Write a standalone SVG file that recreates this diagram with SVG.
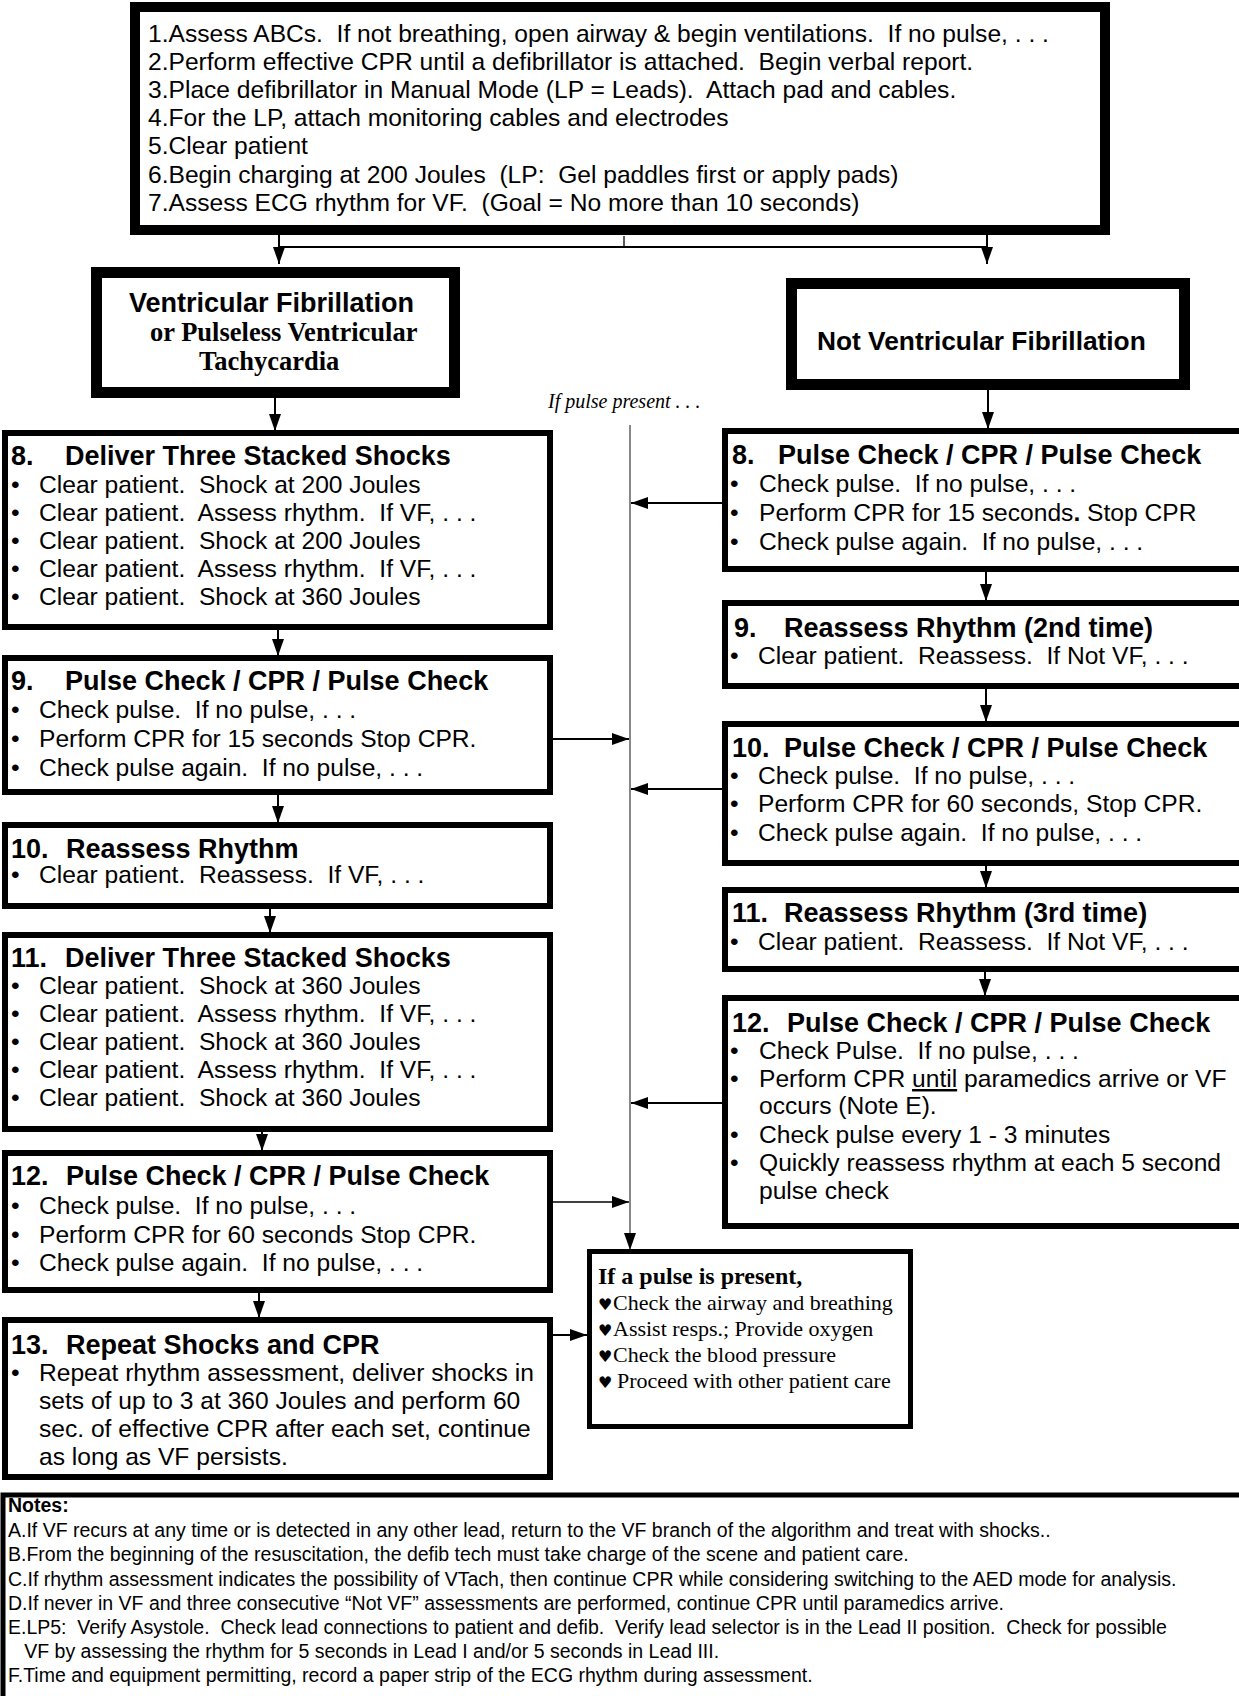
<svg xmlns="http://www.w3.org/2000/svg" width="1239" height="1696" viewBox="0 0 1239 1696" xml:space="preserve">
<style>
text,tspan{white-space:pre}
.box{fill:#fff;stroke:#000}
.thick{stroke-width:11}
.med{stroke-width:6}
.t{font-family:"Liberation Sans",Arial,sans-serif;font-size:24.6px;fill:#000}
.h{font-family:"Liberation Sans",Arial,sans-serif;font-size:27px;font-weight:bold;fill:#000}
.hs{font-family:"Liberation Serif","Times New Roman",serif;font-size:26.5px;font-weight:bold;fill:#000}
.p{font-family:"Liberation Serif","Times New Roman",serif;font-size:22px;fill:#000}
.pb{font-family:"Liberation Serif","Times New Roman",serif;font-size:24px;font-weight:bold;fill:#000}
.heart{font-family:"DejaVu Sans",sans-serif;font-size:16px}
.n{font-family:"Liberation Sans",Arial,sans-serif;font-size:19.5px;fill:#000}
.conn{stroke:#000;stroke-width:2;fill:none}
.thin{stroke-width:1.3}
.gray{stroke:#555;stroke-width:1.4}
</style>
<defs>
<marker id="ah" markerUnits="userSpaceOnUse" markerWidth="17" markerHeight="12" refX="17" refY="6" orient="auto"><path d="M0,0 L17,6 L0,12 z" fill="#000"/></marker>
</defs>
<rect width="1239" height="1696" fill="#fff"/>

<g id="connectors">
<line class="conn" x1="279" y1="235" x2="279" y2="264" marker-end="url(#ah)"/>
<line class="conn" x1="279" y1="247" x2="986" y2="247"/>
<line class="conn thin" x1="624" y1="236" x2="624" y2="247"/>
<line class="conn" x1="987" y1="235" x2="987" y2="264" marker-end="url(#ah)"/>
<line class="conn" x1="275" y1="398" x2="275" y2="431" marker-end="url(#ah)"/>
<line class="conn" x1="988" y1="390" x2="988" y2="429" marker-end="url(#ah)"/>
<line class="conn" x1="278" y1="630" x2="278" y2="656" marker-end="url(#ah)"/>
<line class="conn" x1="278" y1="795" x2="278" y2="823" marker-end="url(#ah)"/>
<line class="conn" x1="270" y1="909" x2="270" y2="933" marker-end="url(#ah)"/>
<line class="conn" x1="262" y1="1132" x2="262" y2="1151" marker-end="url(#ah)"/>
<line class="conn" x1="259" y1="1293" x2="259" y2="1318" marker-end="url(#ah)"/>
<line class="conn" x1="986" y1="572" x2="986" y2="601" marker-end="url(#ah)"/>
<line class="conn" x1="986" y1="689" x2="986" y2="722" marker-end="url(#ah)"/>
<line class="conn" x1="986" y1="866" x2="986" y2="888" marker-end="url(#ah)"/>
<line class="conn" x1="985" y1="972" x2="985" y2="996" marker-end="url(#ah)"/>
<line class="conn gray" x1="630" y1="425" x2="630" y2="1250" marker-end="url(#ah)"/>
<line class="conn" x1="722" y1="503" x2="631" y2="503" marker-end="url(#ah)"/>
<line class="conn" x1="553" y1="739" x2="629" y2="739" marker-end="url(#ah)"/>
<line class="conn" x1="722" y1="789" x2="631" y2="789" marker-end="url(#ah)"/>
<line class="conn" x1="722" y1="1103" x2="631" y2="1103" marker-end="url(#ah)"/>
<line class="conn thin" x1="553" y1="1202" x2="629" y2="1202" marker-end="url(#ah)"/>
<line class="conn" x1="553" y1="1335" x2="587" y2="1335" marker-end="url(#ah)"/>
<text x="548" y="408" style="font-family:'Liberation Serif','Times New Roman',serif;font-size:20px;font-style:italic">If pulse present . . .</text>
</g>

<g id="start">
<rect class="box" x="135" y="7" width="970" height="223" stroke-width="10"/>
<text class="t" x="148" y="42">1.Assess ABCs.  If not breathing, open airway &amp; begin ventilations.  If no pulse, . . .</text>
<text class="t" x="148" y="70">2.Perform effective CPR until a defibrillator is attached.  Begin verbal report.</text>
<text class="t" x="148" y="98">3.Place defibrillator in Manual Mode (LP = Leads).  Attach pad and cables.</text>
<text class="t" x="148" y="126">4.For the LP, attach monitoring cables and electrodes</text>
<text class="t" x="148" y="154">5.Clear patient</text>
<text class="t" x="148" y="183">6.Begin charging at 200 Joules  (LP:  Gel paddles first or apply pads)</text>
<text class="t" x="148" y="211">7.Assess ECG rhythm for VF.  (Goal = No more than 10 seconds)</text>
</g>

<g id="vf">
<rect class="box thick" x="96.5" y="272.5" width="358" height="120"/>
<text class="h" x="129" y="312" style="font-size:27px">Ventricular Fibrillation</text>
<text class="hs" x="150" y="341">or Pulseless Ventricular</text>
<text class="hs" x="199" y="370">Tachycardia</text>
</g>

<g id="notvf">
<rect class="box thick" x="791.5" y="283.5" width="393" height="101"/>
<text class="h" x="817" y="350" style="font-size:26.3px">Not Ventricular Fibrillation</text>
</g>

<g id="l8">
<rect class="box med" x="5" y="433" width="545" height="194"/>
<text class="h" x="11" y="465">8.</text><text class="h" x="65" y="465">Deliver Three Stacked Shocks</text>
<text class="t" x="11" y="493">•</text><text class="t" x="39" y="493">Clear patient.  Shock at 200 Joules</text>
<text class="t" x="11" y="521">•</text><text class="t" x="39" y="521">Clear patient.  Assess rhythm.  If VF, . . .</text>
<text class="t" x="11" y="549">•</text><text class="t" x="39" y="549">Clear patient.  Shock at 200 Joules</text>
<text class="t" x="11" y="577">•</text><text class="t" x="39" y="577">Clear patient.  Assess rhythm.  If VF, . . .</text>
<text class="t" x="11" y="605">•</text><text class="t" x="39" y="605">Clear patient.  Shock at 360 Joules</text>
</g>

<g id="l9">
<rect class="box med" x="5" y="658" width="545" height="134"/>
<text class="h" x="11" y="690">9.</text><text class="h" x="65" y="690">Pulse Check / CPR / Pulse Check</text>
<text class="t" x="11" y="718">•</text><text class="t" x="39" y="718">Check pulse.  If no pulse, . . .</text>
<text class="t" x="11" y="747">•</text><text class="t" x="39" y="747">Perform CPR for 15 seconds Stop CPR.</text>
<text class="t" x="11" y="776">•</text><text class="t" x="39" y="776">Check pulse again.  If no pulse, . . .</text>
</g>

<g id="l10">
<rect class="box med" x="5" y="825" width="545" height="81"/>
<text class="h" x="11" y="858">10.</text><text class="h" x="66" y="858">Reassess Rhythm</text>
<text class="t" x="11" y="883">•</text><text class="t" x="39" y="883">Clear patient.  Reassess.  If VF, . . .</text>
</g>

<g id="l11">
<rect class="box med" x="5" y="935" width="545" height="194"/>
<text class="h" x="11" y="967">11.</text><text class="h" x="65" y="967">Deliver Three Stacked Shocks</text>
<text class="t" x="11" y="994">•</text><text class="t" x="39" y="994">Clear patient.  Shock at 360 Joules</text>
<text class="t" x="11" y="1022">•</text><text class="t" x="39" y="1022">Clear patient.  Assess rhythm.  If VF, . . .</text>
<text class="t" x="11" y="1050">•</text><text class="t" x="39" y="1050">Clear patient.  Shock at 360 Joules</text>
<text class="t" x="11" y="1078">•</text><text class="t" x="39" y="1078">Clear patient.  Assess rhythm.  If VF, . . .</text>
<text class="t" x="11" y="1106">•</text><text class="t" x="39" y="1106">Clear patient.  Shock at 360 Joules</text>
</g>

<g id="l12">
<rect class="box med" x="5" y="1153" width="545" height="137"/>
<text class="h" x="11" y="1185">12.</text><text class="h" x="66" y="1185">Pulse Check / CPR / Pulse Check</text>
<text class="t" x="11" y="1214">•</text><text class="t" x="39" y="1214">Check pulse.  If no pulse, . . .</text>
<text class="t" x="11" y="1243">•</text><text class="t" x="39" y="1243">Perform CPR for 60 seconds Stop CPR.</text>
<text class="t" x="11" y="1271">•</text><text class="t" x="39" y="1271">Check pulse again.  If no pulse, . . .</text>
</g>

<g id="l13">
<rect class="box med" x="5" y="1320" width="545" height="157"/>
<text class="h" x="11" y="1354">13.</text><text class="h" x="66" y="1354">Repeat Shocks and CPR</text>
<text class="t" x="11" y="1381">•</text><text class="t" x="39" y="1381">Repeat rhythm assessment, deliver shocks in</text>
<text class="t" x="39" y="1409">sets of up to 3 at 360 Joules and perform 60</text>
<text class="t" x="39" y="1437">sec. of effective CPR after each set, continue</text>
<text class="t" x="39" y="1465">as long as VF persists.</text>
</g>

<g id="r8">
<rect class="box med" x="725" y="431" width="530" height="138"/>
<text class="h" x="732" y="464">8.</text><text class="h" x="778" y="464">Pulse Check / CPR / Pulse Check</text>
<text class="t" x="730" y="492">•</text><text class="t" x="759" y="492">Check pulse.  If no pulse, . . .</text>
<text class="t" x="730" y="521">•</text><text class="t" x="759" y="521">Perform CPR for 15 seconds<tspan font-weight="bold">.</tspan> Stop CPR</text>
<text class="t" x="730" y="550">•</text><text class="t" x="759" y="550">Check pulse again.  If no pulse, . . .</text>
</g>

<g id="r9">
<rect class="box med" x="725" y="603" width="530" height="83"/>
<text class="h" x="734" y="637">9.</text><text class="h" x="784" y="637">Reassess Rhythm (2nd time)</text>
<text class="t" x="730" y="664">•</text><text class="t" x="758" y="664">Clear patient.  Reassess.  If Not VF, . . .</text>
</g>

<g id="r10">
<rect class="box med" x="725" y="724" width="530" height="139"/>
<text class="h" x="732" y="757">10.</text><text class="h" x="784" y="757">Pulse Check / CPR / Pulse Check</text>
<text class="t" x="730" y="784">•</text><text class="t" x="758" y="784">Check pulse.  If no pulse, . . .</text>
<text class="t" x="730" y="812">•</text><text class="t" x="758" y="812">Perform CPR for 60 seconds, Stop CPR.</text>
<text class="t" x="730" y="841">•</text><text class="t" x="758" y="841">Check pulse again.  If no pulse, . . .</text>
</g>

<g id="r11">
<rect class="box med" x="725" y="890" width="530" height="79"/>
<text class="h" x="732" y="922">11.</text><text class="h" x="784" y="922">Reassess Rhythm (3rd time)</text>
<text class="t" x="730" y="950">•</text><text class="t" x="758" y="950">Clear patient.  Reassess.  If Not VF, . . .</text>
</g>

<g id="r12">
<rect class="box med" x="725" y="998" width="530" height="228"/>
<text class="h" x="732" y="1032">12.</text><text class="h" x="787" y="1032">Pulse Check / CPR / Pulse Check</text>
<text class="t" x="730" y="1059">•</text><text class="t" x="759" y="1059">Check Pulse.  If no pulse, . . .</text>
<text class="t" x="730" y="1087">•</text><text class="t" x="759" y="1087">Perform CPR <tspan text-decoration="underline">until</tspan> paramedics arrive or VF</text>
<text class="t" x="759" y="1114">occurs (Note E).</text>
<text class="t" x="730" y="1143">•</text><text class="t" x="759" y="1143">Check pulse every 1 - 3 minutes</text>
<text class="t" x="730" y="1171">•</text><text class="t" x="759" y="1171">Quickly reassess rhythm at each 5 second</text>
<text class="t" x="759" y="1199">pulse check</text>
</g>

<g id="pulse">
<rect class="box" x="589.5" y="1251.5" width="321" height="175" stroke-width="5"/>
<text class="pb" x="598" y="1284">If a pulse is present,</text>
<text class="p" x="598" y="1310"><tspan class="heart">♥</tspan><tspan x="613">Check the airway and breathing</tspan></text>
<text class="p" x="598" y="1336"><tspan class="heart">♥</tspan><tspan x="613">Assist resps.; Provide oxygen</tspan></text>
<text class="p" x="598" y="1362"><tspan class="heart">♥</tspan><tspan x="613">Check the blood pressure</tspan></text>
<text class="p" x="598" y="1388"><tspan class="heart">♥</tspan><tspan x="617">Proceed with other patient care</tspan></text>
</g>

<g id="notes">
<rect class="box" x="3" y="1495" width="1250" height="250" stroke-width="5"/>
<text class="n" x="8" y="1512" font-weight="bold">Notes:</text>
<text class="n" x="8" y="1537">A.If VF recurs at any time or is detected in any other lead, return to the VF branch of the algorithm and treat with shocks..</text>
<text class="n" x="8" y="1561">B.From the beginning of the resuscitation, the defib tech must take charge of the scene and patient care.</text>
<text class="n" x="8" y="1586">C.If rhythm assessment indicates the possibility of VTach, then continue CPR while considering switching to the AED mode for analysis.</text>
<text class="n" x="8" y="1610">D.If never in VF and three consecutive “Not VF” assessments are performed, continue CPR until paramedics arrive.</text>
<text class="n" x="8" y="1634">E.LP5:  Verify Asystole.  Check lead connections to patient and defib.  Verify lead selector is in the Lead II position.  Check for possible</text>
<text class="n" x="8" y="1658">   VF by assessing the rhythm for 5 seconds in Lead I and/or 5 seconds in Lead III.</text>
<text class="n" x="8" y="1682">F.Time and equipment permitting, record a paper strip of the ECG rhythm during assessment.</text>
</g>
</svg>
